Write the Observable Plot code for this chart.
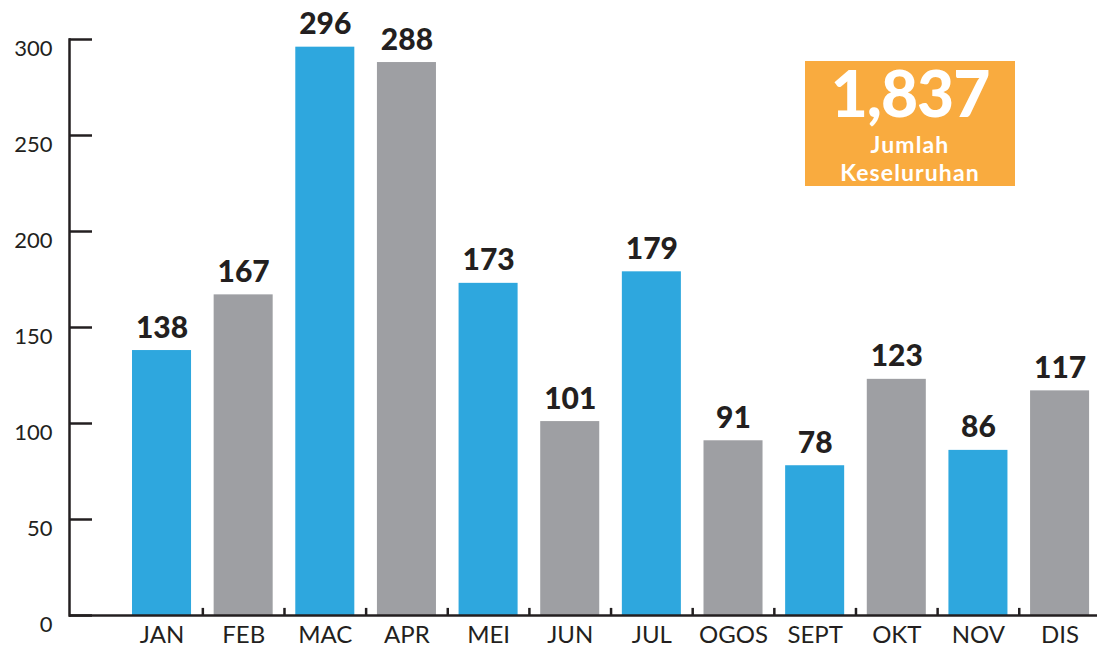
<!DOCTYPE html>
<html>
<head>
<meta charset="utf-8">
<script src="https://cdn.jsdelivr.net/npm/d3@7"></script>
<script src="https://cdn.jsdelivr.net/npm/@observablehq/plot@0.6"></script>
<style>
  html, body { margin: 0; padding: 0; background: #fff; }
  #wrap { position: relative; width: 1097px; height: 646px; font-family: Lato, "Noto Sans", sans-serif; }
  #total {
    position: absolute; left: 805px; top: 61px; width: 210px; height: 125px;
    background: #f9ab3f; color: #fff; text-align: center; font-weight: 900;
  }
  #total .num { font-size: 64px; line-height: 56px; margin-top: 4px; letter-spacing: -1px; }
  #total .lbl { font-size: 23px; line-height: 28px; font-weight: 700; margin-top: 9px; letter-spacing: 1.1px; }
</style>
</head>
<body>
<div id="wrap">
  <div id="chart"></div>
  <div id="total"><div class="num"></div><div class="lbl">Jumlah<br>Keseluruhan</div></div>
</div>
<script>
const months = ["JAN","FEB","MAC","APR","MEI","JUN","JUL","OGOS","SEPT","OKT","NOV","DIS"];
const counts = [138,167,296,288,173,101,179,91,78,123,86,117];
const barColors = ["#2ea7de","#9e9fa3"];
const yTicks = [0,50,100,150,200,250,300];
const totalLabel = "1,837";

const data = months.map((m, i) => ({month: m, value: counts[i], color: barColors[i % 2]}));
const ink = "#231f20";
const W = 1097, H = 646, mL = 69, mR = 0;
const step = (1100.4 - 120.7) / months.length;

const chart = Plot.plot({
  width: W,
  height: H,
  marginLeft: mL,
  marginRight: mR,
  marginTop: 39,
  marginBottom: 31,
  style: {fontFamily: "Lato, 'Noto Sans', sans-serif", background: "transparent", overflow: "visible"},
  x: {domain: months, range: [120.7, 1100.4], paddingInner: 0.277, paddingOuter: 0.1385, round: false, axis: null},
  y: {domain: [0, 300], axis: null},
  marks: [
    Plot.barY(data, {x: "month", y: "value", fill: "color"}),
    Plot.ruleY(yTicks, {y: d => d, stroke: ink, strokeWidth: 2.5, insetRight: W - mR - 92}),
    Plot.frame({anchor: "left", stroke: ink, strokeWidth: 2.5}),
    Plot.ruleY([0], {stroke: ink, strokeWidth: 2.5}),
    Plot.ruleX(months.slice(1), {x: d => d, y1: 0, y2: 3.7, dx: -step / 2, stroke: ink, strokeWidth: 2.5}),
    Plot.text(yTicks, {y: d => d, text: d => String(d), frameAnchor: "left", textAnchor: "end", dx: -17, dy: 9, fontSize: 22, fill: ink}),
    Plot.text(months, {x: d => d, text: d => d, frameAnchor: "bottom", lineAnchor: "top", dy: 10, fontSize: 24, fill: ink}),
    Plot.text(data, {x: "month", y: "value", text: d => String(d.value), lineAnchor: "bottom", dy: -13, fontSize: 30, fontWeight: 900, fill: ink})
  ]
});
document.getElementById("chart").appendChild(chart);
document.querySelector("#total .num").textContent = totalLabel;
</script>
</body>
</html>
